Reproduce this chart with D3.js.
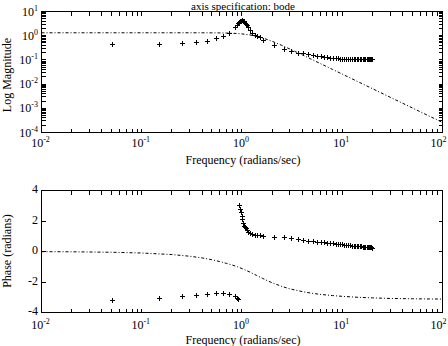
<!DOCTYPE html>
<html><head><meta charset="utf-8">
<script src="https://cdn.jsdelivr.net/npm/d3@7"></script>
<style>
html,body{margin:0;padding:0;background:#fff;}
svg{display:block;}
text{font-family:"Liberation Serif","DejaVu Serif",serif;font-size:12px;fill:#000;}
</style></head><body>
<svg id="chart" width="448" height="346"></svg>
<script>
// measured (+) response
const measFreq = [0.05,0.15,0.25,0.35,0.45,0.55,0.65,0.75,0.85,0.9,0.92,0.935,0.956,0.978,0.994,1.008,1.031,1.047,1.068,1.088,1.11,1.15,1.19,1.26,1.34,1.42,1.5,1.62,2.1,2.6,3.1,3.6,4.1,4.6,5.1,5.6,6.1,6.6,7.1,7.6,8.1,8.6,9.1,9.6,10,10.5,11,11.5,12,12.5,13,13.5,14,14.5,15,15.5,16,16.5,17,17.5,18,18.5,19,19.5,20];
const measMag = [0.46,0.46,0.51,0.54,0.59,0.79,1.01,1.32,2.2,2.9,3.3,3.6,3.9,4.2,4.4,4.4,4.2,3.9,3.5,3.1,2.7,2.2,1.8,1.32,1.1,0.98,0.88,0.68,0.43,0.29,0.23,0.195,0.19,0.18,0.16,0.15,0.14,0.135,0.13,0.125,0.12,0.118,0.115,0.112,0.111,0.11,0.11,0.109,0.109,0.108,0.108,0.108,0.107,0.107,0.107,0.107,0.106,0.106,0.106,0.106,0.106,0.106,0.105,0.105,0.105];
const measPhase = [-3.15,-3.06,-2.93,-2.86,-2.80,-2.71,-2.71,-2.80,-2.93,-3.05,-3.13,3.08,2.8,2.58,2.36,2.14,1.86,1.70,1.6,1.55,1.42,1.3,1.2,1.15,1.1,1.08,1.05,1.03,0.96,0.92,0.9,0.81,0.76,0.72,0.68,0.65,0.62,0.6,0.58,0.56,0.54,0.52,0.5,0.48,0.46,0.45,0.43,0.42,0.40,0.39,0.38,0.37,0.36,0.35,0.34,0.33,0.32,0.31,0.31,0.30,0.29,0.29,0.28,0.27,0.26];
// model (dash-dot) response
const modelFreq = [0.01,0.02,0.05,0.1,0.2,0.3,0.4,0.5,0.6,0.7,0.8,0.9,1.0,1.2,1.4,1.6,1.8,2.0,2.5,3,4,5,6,8,10,15,20,30,40,50,70,100];
const modelMag = [1.32,1.32,1.32,1.32,1.32,1.32,1.318,1.313,1.303,1.287,1.262,1.229,1.185,1.074,0.943,0.810,0.689,0.585,0.397,0.282,0.161,0.1033,0.0718,0.0404,0.0259,0.0115,0.00647,0.00288,0.00162,0.00104,0.000528,0.000259];
const modelPhase = [-0.01,-0.02,-0.05,-0.10,-0.20,-0.31,-0.42,-0.54,-0.66,-0.78,-0.89,-1.0,-1.12,-1.35,-1.57,-1.76,-1.92,-2.05,-2.29,-2.45,-2.63,-2.74,-2.81,-2.89,-2.94,-3.01,-3.04,-3.08,-3.09,-3.10,-3.11,-3.12];
// tick labels
const xExponents = ["-2","-1","0","1","2"];
const magExponents = ["1","0","-1","-2","-3","-4"];
const phaseTicks = [4,2,0,-2,-4];
const titleText = "axis specification: bode";
const xTitle = "Frequency (radians/sec)";
const magTitle = "Log Magnitude";
const phaseTitle = "Phase (radians)";

const svg = d3.select("#chart");
const L = 41.5, R = 442.5;
const P1 = {top: 11.5, bottom: 132.5};
const P2 = {top: 190.5, bottom: 312.5};

const x = d3.scaleLog().domain([0.01, 100]).range([L, R]);
const yMag = d3.scaleLog().domain([1e-4, 10]).range([P1.bottom, P1.top]);
const yPh = d3.scaleLinear().domain([-4, 4]).range([P2.bottom, P2.top]);

const TL = 4;

function sci(g, px, py, exp, anchor) {
  const t = g.append("text").attr("x", px).attr("y", py).attr("text-anchor", anchor);
  t.append("tspan").text("10");
  t.append("tspan").attr("dy", -5).style("font-size", "8px").text(exp);
}

function frame(P, yTicksMajor, yTicksMinor, yScale) {
  const g = svg.append("g").attr("shape-rendering", "crispEdges").attr("stroke", "#000").attr("fill", "none");
  g.append("rect").attr("x", L).attr("y", P.top).attr("width", R - L).attr("height", P.bottom - P.top);
  const xMaj = xExponents.map(e => Math.pow(10, +e));
  const xMin = [];
  for (let d = -2; d < 2; d++) for (let k = 2; k <= 9; k++) xMin.push(k * Math.pow(10, d));
  xMaj.concat(xMin).forEach(v => {
    const px = Math.round(x(v) - 0.5) + 0.5;
    g.append("line").attr("x1", px).attr("x2", px).attr("y1", P.bottom).attr("y2", P.bottom - TL);
    g.append("line").attr("x1", px).attr("x2", px).attr("y1", P.top).attr("y2", P.top + TL);
  });
  yTicksMajor.concat(yTicksMinor).forEach(v => {
    const py = Math.round(yScale(v) - 0.5) + 0.5;
    g.append("line").attr("x1", L).attr("x2", L + TL).attr("y1", py).attr("y2", py);
    g.append("line").attr("x1", R).attr("x2", R - TL).attr("y1", py).attr("y2", py);
  });
}

const magMaj = magExponents.map(e => Math.pow(10, +e));
const magMin = [];
for (let d = -4; d < 1; d++) for (let k = 2; k <= 9; k++) magMin.push(k * Math.pow(10, d));
frame(P1, magMaj, magMin, yMag);
frame(P2, phaseTicks, [], yPh);

const labels = svg.append("g");
[{base: 147, tbase: 164}, {base: 328.5, tbase: 344}].forEach(o => {
  xExponents.forEach((e, i) => sci(labels, x(Math.pow(10, +e)) - (i === xExponents.length - 1 ? 4 : 1), o.base, e, "middle"));
  labels.append("text").attr("x", 243).attr("y", o.tbase).attr("text-anchor", "middle").text(xTitle);
});
magExponents.forEach(e => sci(labels, 38, yMag(Math.pow(10, +e)) + 4, e, "end"));
phaseTicks.forEach(v => labels.append("text").attr("x", 38).attr("y", yPh(v) + 2.5).attr("text-anchor", "end").text(v));
labels.append("text").attr("transform", "translate(11,75) rotate(-90)").attr("text-anchor", "middle").text(magTitle);
labels.append("text").attr("transform", "translate(11,251) rotate(-90)").attr("text-anchor", "middle").text(phaseTitle);
labels.append("text").attr("x", 243).attr("y", 10).attr("text-anchor", "middle").style("font-size", "11px").text(titleText);

const defs = svg.append("defs");
defs.append("clipPath").attr("id", "c1").append("rect").attr("x", L).attr("y", P1.top).attr("width", R - L).attr("height", P1.bottom - P1.top);
defs.append("clipPath").attr("id", "c2").append("rect").attr("x", L).attr("y", P2.top).attr("width", R - L).attr("height", P2.bottom - P2.top);

const idx = d3.range(modelFreq.length);
svg.append("path").attr("clip-path", "url(#c1)")
  .attr("d", d3.line().x(i => x(modelFreq[i])).y(i => yMag(modelMag[i]))(idx))
  .attr("fill", "none").attr("stroke", "#000").attr("stroke-width", 1).attr("stroke-dasharray", "3,2,1,2");
svg.append("path").attr("clip-path", "url(#c2)")
  .attr("d", d3.line().x(i => x(modelFreq[i])).y(i => yPh(modelPhase[i]))(idx))
  .attr("fill", "none").attr("stroke", "#000").attr("stroke-width", 1).attr("stroke-dasharray", "3,2,1,2");

const plus = "M-2.5,0H2.5M0,-2.5V2.5";
const midx = d3.range(measFreq.length);
svg.append("g").attr("clip-path", "url(#c1)").attr("shape-rendering", "crispEdges")
  .selectAll("path").data(midx).join("path")
  .attr("transform", i => `translate(${Math.round(x(measFreq[i])) + 0.5},${Math.round(yMag(measMag[i])) + 0.5})`)
  .attr("d", plus).attr("stroke", "#000").attr("fill", "none");
svg.append("g").attr("clip-path", "url(#c2)").attr("shape-rendering", "crispEdges")
  .selectAll("path").data(midx).join("path")
  .attr("transform", i => `translate(${Math.round(x(measFreq[i])) + 0.5},${Math.round(yPh(measPhase[i])) + 0.5})`)
  .attr("d", plus).attr("stroke", "#000").attr("fill", "none");
</script>
</body></html>
